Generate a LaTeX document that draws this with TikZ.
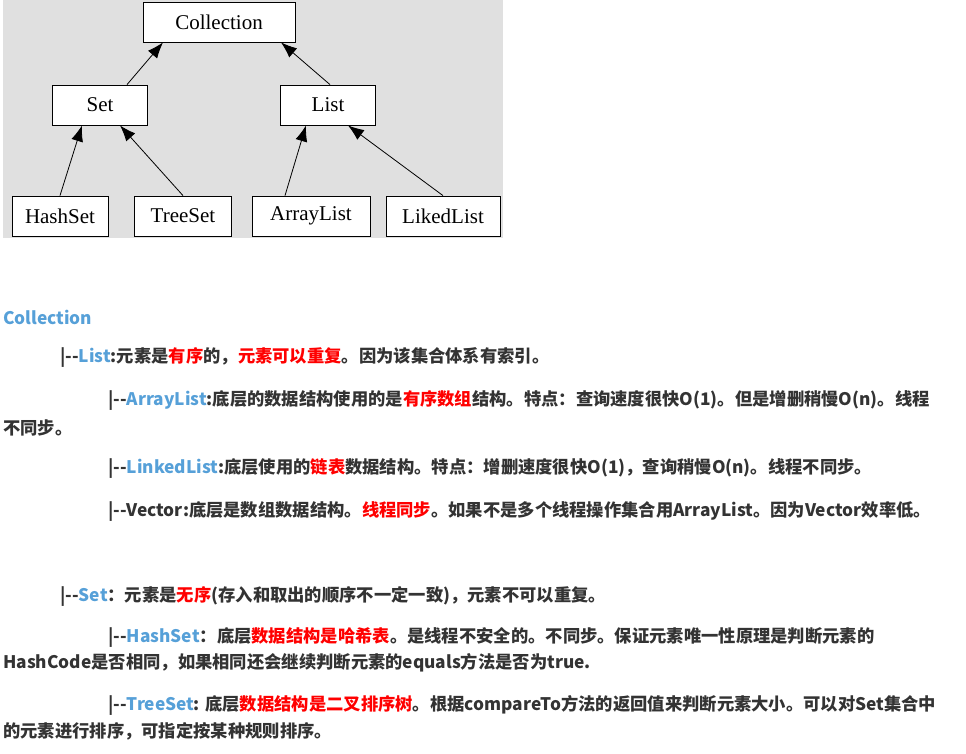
\documentclass[tikz,border=0pt]{standalone}
\usepackage{fontspec}
\setmainfont{Noto Sans CJK SC}
\newfontfamily\tms{Liberation Serif}
\usetikzlibrary{arrows.meta}
\definecolor{nameblue}{RGB}{86,160,216}
\definecolor{bodygray}{RGB}{51,51,51}
\definecolor{bggray}{RGB}{224,224,224}
\tikzset{box/.style={draw,thick,fill=white,font=\tms\fontsize{21}{24}\selectfont,
                     minimum height=40,inner xsep=8}}
\tikzset{inherit/.style={thick,-{Latex[length=16,width=12]}}}
\tikzset{line/.style={anchor=west,inner sep=0,text=bodygray,
                      font=\bfseries\fontsize{17.3}{20}\selectfont}}
\newcommand{\nm}[1]{\textcolor{nameblue}{#1}}
\newcommand{\hl}[1]{\textcolor{red}{#1}}
\newcommand{\br}{|{-}{-}}

\begin{document}
\begin{tikzpicture}[x=1pt,y=-1pt]
    \useasboundingbox (0,0) rectangle (966,753);
    \fill[bggray] (3,0) rectangle (503,238);
    % hierarchy
    \node[box,minimum width=152] (coll) at (219,22) {Collection};
    \node[box,minimum width=95] (set) at (100,105) {Set};
    \node[box,minimum width=95] (list) at (328,105) {List};
    \node[box,minimum width=96] (hset) at (60,216) {HashSet};
    \node[box,minimum width=97] (tset) at (183,216) {TreeSet};
    \node[box,minimum width=118] (alist) at (311,216) {ArrayList};
    \node[box,minimum width=114] (llist) at (443,216) {LikedList};
    \draw[inherit] ([xshift=27]set.north) -- ([xshift=-56]coll.south);
    \draw[inherit] ([xshift=2]list.north) -- ([xshift=62]coll.south);
    \draw[inherit] (hset.north) -- ([xshift=-18]set.south);
    \draw[inherit] (tset.north) -- ([xshift=20]set.south);
    \draw[inherit] ([xshift=-26]alist.north) -- ([xshift=-22]list.south);
    \draw[inherit] (llist.north) -- ([xshift=20]list.south);
    % text
    \node[line] (t0) at (3,317) {\nm{Collection}};
    \node[line] (t1) at (60,357) {\br\nm{List}:元素是\hl{有序}的，\hl{元素可以重复}。因为该集合体系有索引。};
    \node[line] (t2) at (108,400) {\br\nm{ArrayList}:底层的数据结构使用的是\hl{有序数组}结构。特点：查询速度很快O(1)。但是增删稍慢O(n)。线程};
    \node[line] (t2b) at (3,428) {不同步。};
    \node[line] (t3) at (108,468) {\br\nm{LinkedList}:底层使用的\hl{链表}数据结构。特点：增删速度很快O(1)，查询稍慢O(n)。线程不同步。};
    \node[line] (t4) at (108,511) {\br Vector:底层是数组数据结构。\hl{线程同步}。如果不是多个线程操作集合用ArrayList。因为Vector效率低。};
    \node[line] (t5) at (60,596) {\br\nm{Set}：元素是\hl{无序}(存入和取出的顺序不一定一致)，元素不可以重复。};
    \node[line] (t6) at (108,637) {\br\nm{HashSet}：底层\hl{数据结构是哈希表}。是线程不安全的。不同步。保证元素唯一性原理是判断元素的};
    \node[line] (t6b) at (3,663) {HashCode是否相同，如果相同还会继续判断元素的equals方法是否为true.};
    \node[line] (t7) at (108,705) {\br\nm{TreeSet}: 底层\hl{数据结构是二叉排序树}。根据compareTo方法的返回值来判断元素大小。可以对Set集合中};
    \node[line] (t7b) at (3,731) {的元素进行排序，可指定按某种规则排序。};
\end{tikzpicture}
\end{document}
